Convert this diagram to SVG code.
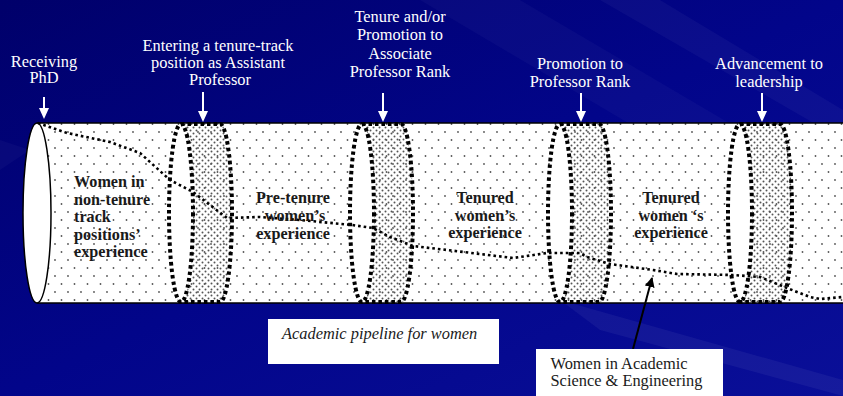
<svg xmlns="http://www.w3.org/2000/svg" width="843" height="396" viewBox="0 0 843 396">
<defs>
<linearGradient id="bg" x1="0" y1="0" x2="1" y2="1">
<stop offset="0" stop-color="#00006a"/>
<stop offset="0.5" stop-color="#02058a"/>
<stop offset="1" stop-color="#0a0f98"/>
</linearGradient>
<pattern id="sparse" width="13" height="16" patternUnits="userSpaceOnUse">
<circle cx="3" cy="4" r="0.9" fill="#555"/>
<circle cx="9.5" cy="12" r="0.9" fill="#555"/>
</pattern>
<pattern id="dense" width="6" height="6" patternUnits="userSpaceOnUse">
<circle cx="1.5" cy="1.5" r="1" fill="#555"/>
<circle cx="4.5" cy="4.5" r="1" fill="#555"/>
</pattern>
<marker id="blk" markerWidth="10" markerHeight="10" refX="9" refY="5" orient="auto" markerUnits="userSpaceOnUse" viewBox="0 0 10 10">
<path d="M0,0 L10,5 L0,10 Z" fill="#000"/>
</marker>
</defs>
<style>
.lbl{font-family:"Liberation Serif","Times New Roman",serif;font-size:16.4px;fill:#ffffff;text-anchor:middle}
.inner{font-family:"Liberation Serif","Times New Roman",serif;font-size:16.2px;font-weight:bold;fill:#1a1a1a}
.mid{text-anchor:middle}
.box{fill:#ffffff}
.boxt{font-family:"Liberation Serif","Times New Roman",serif;font-size:16.4px;fill:#1a1a1a}
.ring{fill:none;stroke:#000;stroke-width:4;stroke-dasharray:3.5 3}
.band{fill:url(#dense)}
.arr{stroke:#fff;stroke-width:2}
.arrh{fill:#fff}
.flow{fill:none;stroke:#000;stroke-width:2.6;stroke-dasharray:2.6 3;stroke-linejoin:round}
</style>
<rect width="843" height="396" fill="url(#bg)"/>
<g id="streaks" fill="#ffffff">
<polygon points="420,0 520,0 843,190 843,250" opacity="0.03"/>
<polygon points="600,0 660,0 843,110 843,140" opacity="0.04"/>
<polygon points="560,300 843,380 843,396 600,330" opacity="0.05"/>
<polygon points="0,170 30,150 0,140" opacity="0.03"/>
</g>
<g id="pipe">
<rect x="37" y="123" width="810" height="180" fill="#ffffff"/>
<rect x="37" y="123" width="810" height="180" fill="url(#sparse)"/>
<line x1="37" y1="123" x2="843" y2="123" stroke="#000" stroke-width="1.5"/>
<line x1="37" y1="303" x2="843" y2="303" stroke="#000" stroke-width="1.5"/>
<ellipse cx="37" cy="213" rx="14" ry="90" fill="#ffffff" stroke="#000" stroke-width="1.5"/>
</g>
<g id="ring1">
<path class="band" d="M181,123 L220,123 A12,90 0 0 1 220,303 L181,303 A12,90 0 0 0 181,123 Z"/>
<ellipse cx="181" cy="213" rx="12" ry="89" fill="#ffffff"/>
<ellipse class="ring" cx="181" cy="213" rx="12" ry="89"/>
<path class="ring" d="M181,124 L220,124 A12,89 0 0 1 220,302 L181,302"/>
</g>
<g id="ring2">
<path class="band" d="M362,123 L401,123 A12,90 0 0 1 401,303 L362,303 A12,90 0 0 0 362,123 Z"/>
<ellipse cx="362" cy="213" rx="12" ry="89" fill="#ffffff"/>
<ellipse class="ring" cx="362" cy="213" rx="12" ry="89"/>
<path class="ring" d="M362,124 L401,124 A12,89 0 0 1 401,302 L362,302"/>
</g>
<g id="ring3">
<path class="band" d="M560,123 L599,123 A12,90 0 0 1 599,303 L560,303 A12,90 0 0 0 560,123 Z"/>
<ellipse cx="560" cy="213" rx="12" ry="89" fill="#ffffff"/>
<ellipse class="ring" cx="560" cy="213" rx="12" ry="89"/>
<path class="ring" d="M560,124 L599,124 A12,89 0 0 1 599,302 L560,302"/>
</g>
<g id="ring4">
<path class="band" d="M740,123 L780,123 A12,90 0 0 1 780,303 L740,303 A12,90 0 0 0 740,123 Z"/>
<ellipse cx="740" cy="213" rx="12" ry="89" fill="#ffffff"/>
<ellipse class="ring" cx="740" cy="213" rx="12" ry="89"/>
<path class="ring" d="M740,124 L780,124 A12,89 0 0 1 780,302 L740,302"/>
</g>
<g id="connectors">
<polyline class="flow" points="38,123 67,133 110,142 140,153 170,180 193,192 227,218 260,217 300,220 352,225 373,228 390,237 413,246 447,250 513,258 547,253 580,253 587,257 610,264 653,270 677,274 733,275 760,277 787,288 810,297 820,299 843,297"/>
<line x1="633" y1="349" x2="652" y2="278" stroke="#000" stroke-width="2" marker-end="url(#blk)"/>
<line class="arr" x1="44" y1="97" x2="44" y2="109"/>
<polygon class="arrh" points="39,108 49,108 44,119"/>
<line class="arr" x1="203" y1="92" x2="203" y2="112"/>
<polygon class="arrh" points="198,111 208,111 203,122"/>
<line class="arr" x1="383" y1="93" x2="383" y2="112"/>
<polygon class="arrh" points="378,111 388,111 383,122"/>
<line class="arr" x1="581" y1="93" x2="581" y2="112"/>
<polygon class="arrh" points="576,111 586,111 581,122"/>
<line class="arr" x1="762" y1="93" x2="762" y2="112"/>
<polygon class="arrh" points="757,111 767,111 762,122"/>
</g>
<g id="label-phd">
<text class="lbl" x="44" y="67">Receiving</text>
<text class="lbl" x="44" y="83">PhD</text>
</g>
<g id="label-entering">
<text class="lbl" x="218" y="51">Entering a tenure-track</text>
<text class="lbl" x="218" y="68">position as Assistant</text>
<text class="lbl" x="220" y="85">Professor</text>
</g>
<g id="label-tenure">
<text class="lbl" x="400" y="21.5">Tenure and/or</text>
<text class="lbl" x="400" y="40">Promotion to</text>
<text class="lbl" x="400" y="58.5">Associate</text>
<text class="lbl" x="400" y="77">Professor Rank</text>
</g>
<g id="label-professor">
<text class="lbl" x="580" y="69">Promotion to</text>
<text class="lbl" x="580" y="86.5">Professor Rank</text>
</g>
<g id="label-leadership">
<text class="lbl" x="769" y="69">Advancement to</text>
<text class="lbl" x="769" y="87">leadership</text>
</g>
<g id="stage-nontenure">
<text class="inner" x="74" y="187">Women in</text>
<text class="inner" x="74" y="204.5">non-tenure</text>
<text class="inner" x="74" y="222">track</text>
<text class="inner" x="74" y="239.5">positions’</text>
<text class="inner" x="74" y="257">experience</text>
</g>
<g id="stage-pretenure">
<text class="inner mid" x="293" y="203">Pre-tenure</text>
<text class="inner mid" x="295" y="221">women’s</text>
<text class="inner mid" x="293" y="239">experience</text>
</g>
<g id="stage-tenured1">
<text class="inner mid" x="485" y="203">Tenured</text>
<text class="inner mid" x="485" y="220.5">women’s</text>
<text class="inner mid" x="485" y="238">experience</text>
</g>
<g id="stage-tenured2">
<text class="inner mid" x="671" y="203">Tenured</text>
<text class="inner mid" x="671" y="220.5">women ‘s</text>
<text class="inner mid" x="671" y="238">experience</text>
</g>
<g id="caption">
<rect class="box" x="268" y="319" width="231" height="45"/>
<text class="boxt" x="282" y="339.3" font-style="italic">Academic pipeline for women</text>
</g>
<g id="callout">
<rect class="box" x="536" y="349" width="187" height="60"/>
<text class="boxt" x="550.5" y="369.3">Women in Academic</text>
<text class="boxt" x="550.5" y="386">Science &amp; Engineering</text>
</g>
</svg>
